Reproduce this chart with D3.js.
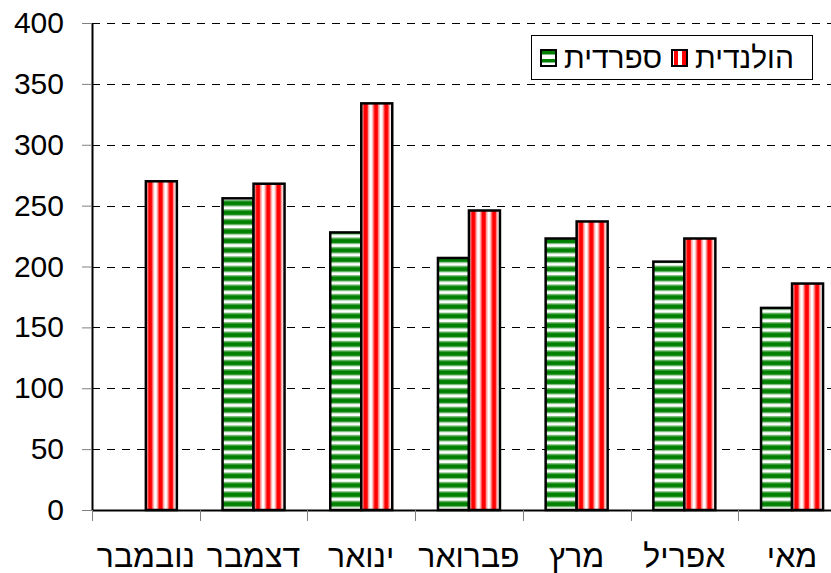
<!DOCTYPE html>
<html>
<head>
<meta charset="utf-8">
<script src="https://cdn.jsdelivr.net/npm/d3@7"></script>
<style>
  body { margin: 0; background: #fff; }
  svg { display: block; font-family: 'Liberation Sans', Arial, sans-serif; }
</style>
</head>
<body>
<svg id="chart"></svg>
<script>
var months = ['נובמבר', 'דצמבר', 'ינואר', 'פברואר', 'מרץ', 'אפריל', 'מאי'];
var spanish = [null, 256, 228, 207, 223, 204, 166];
var dutch = [270, 268, 334, 246, 237, 223, 186];
var seriesNames = ['ספרדית', 'הולנדית'];
var yTicks = [0, 50, 100, 150, 200, 250, 300, 350, 400];

var width = 831, height = 573;
var svg = d3.select('#chart').attr('width', width).attr('height', height);

var x = d3.scaleBand().domain(months).range([92, 92 + 7 * 107.7]).padding(0);
var xs = d3.scaleBand().domain([0, 1]).range([0, x.bandwidth()]).paddingInner(0).paddingOuter(0.737);
var y = d3.scaleLinear().domain([0, 400]).range([510, 23]);

var defs = svg.append('defs');
// horizontal green stripes
var pg = defs.append('pattern').attr('id', 'pgreen')
  .attr('patternUnits', 'userSpaceOnUse')
  .attr('width', 10).attr('height', 9.4).attr('y', y(0));
pg.append('rect').attr('width', 10).attr('height', 9.4).attr('fill', '#fff');
pg.append('rect').attr('y', 0).attr('width', 10).attr('height', 1.2).attr('fill', '#7fbf7f');
pg.append('rect').attr('y', 1.2).attr('width', 10).attr('height', 4.4).attr('fill', '#008000');
pg.append('rect').attr('y', 5.6).attr('width', 10).attr('height', 1.2).attr('fill', '#7fbf7f');
// vertical red stripes, three per bar
var pr = defs.append('pattern').attr('id', 'pred')
  .attr('patternUnits', 'objectBoundingBox')
  .attr('patternContentUnits', 'objectBoundingBox')
  .attr('width', 1 / 3).attr('height', 1);
pr.append('rect').attr('width', 1 / 3).attr('height', 1).attr('fill', '#fff');
pr.append('rect').attr('x', 0.02).attr('width', 0.05).attr('height', 1).attr('fill', '#ff9999');
pr.append('rect').attr('x', 0.07).attr('width', 0.14).attr('height', 1).attr('fill', '#ff0000');
pr.append('rect').attr('x', 0.21).attr('width', 0.05).attr('height', 1).attr('fill', '#ff9999');

// gridlines
svg.append('g').selectAll('line')
  .data(yTicks.filter(function(d) { return d > 0; }))
  .enter().append('line')
  .attr('x1', 92).attr('x2', width)
  .attr('y1', function(d) { return Math.round(y(d)) + 0.5; })
  .attr('y2', function(d) { return Math.round(y(d)) + 0.5; })
  .attr('stroke', '#000')
  .attr('stroke-dasharray', '8,7');

// bars
var pairs = [];
months.forEach(function(m, i) {
  if (spanish[i] != null) pairs.push({m: m, s: 0, v: spanish[i]});
  if (dutch[i] != null) pairs.push({m: m, s: 1, v: dutch[i]});
});
svg.append('g').selectAll('rect')
  .data(pairs)
  .enter().append('rect')
  .attr('x', function(d) { return x(d.m) + xs(d.s); })
  .attr('y', function(d) { return y(d.v); })
  .attr('width', xs.bandwidth())
  .attr('height', function(d) { return y(0) - y(d.v); })
  .attr('fill', function(d) { return d.s === 0 ? 'url(#pgreen)' : 'url(#pred)'; })
  .attr('stroke', '#000')
  .attr('stroke-width', 2.5);

// y axis
var yAxis = d3.axisLeft(y).tickValues(yTicks).tickSize(10).tickPadding(18).tickSizeOuter(0);
var yg = svg.append('g').attr('transform', 'translate(92,0)').call(yAxis);
yg.select('.domain').attr('stroke', '#000').attr('stroke-width', 2);
yg.selectAll('.tick line').attr('stroke', '#808080');
yg.selectAll('.tick text').attr('font-size', 30).attr('font-family', null).attr('fill', '#000');

// x axis
var xAxis = d3.axisBottom(x).tickValues([]).tickSizeOuter(0);
var xg = svg.append('g').attr('transform', 'translate(0,' + y(0) + ')').call(xAxis);
xg.select('.domain').attr('stroke', '#000').attr('stroke-width', 2);
xg.selectAll('.sep')
  .data(months)
  .enter().append('line')
  .attr('x1', function(d) { return Math.round(x(d)) + 0.5; })
  .attr('x2', function(d) { return Math.round(x(d)) + 0.5; })
  .attr('y1', 0).attr('y2', 11)
  .attr('stroke', '#808080');
xg.selectAll('.lbl')
  .data(months)
  .enter().append('text')
  .attr('x', function(d) { return x(d) + x.bandwidth() / 2; })
  .attr('y', 57)
  .attr('text-anchor', 'middle')
  .attr('font-size', 32)
  .attr('font-family', null)
  .attr('fill', '#000')
  .text(function(d) { return d; });

// legend
var lg = svg.append('g');
lg.append('rect').attr('x', 531.5).attr('y', 35.5).attr('width', 281).attr('height', 44)
  .attr('fill', '#fff').attr('stroke', '#000').attr('stroke-width', 1);
var legendItems = [{name: seriesNames[0], fill: 'url(#pgreenL)', x: 541}, {name: seriesNames[1], fill: 'url(#predL)', x: 672}];
var pgl = defs.append('pattern').attr('id', 'pgreenL')
  .attr('patternUnits', 'userSpaceOnUse').attr('width', 10).attr('height', 8).attr('y', 49);
pgl.append('rect').attr('width', 10).attr('height', 8).attr('fill', '#fff');
pgl.append('rect').attr('y', 2).attr('width', 10).attr('height', 3.5).attr('fill', '#008000');
var prl = defs.append('pattern').attr('id', 'predL')
  .attr('patternUnits', 'userSpaceOnUse').attr('width', 8).attr('height', 10).attr('x', 672);
prl.append('rect').attr('width', 8).attr('height', 10).attr('fill', '#fff');
prl.append('rect').attr('x', 2).attr('width', 4).attr('height', 10).attr('fill', '#ff0000');
lg.selectAll('.sw')
  .data(legendItems)
  .enter().append('rect')
  .attr('x', function(d) { return d.x; })
  .attr('y', 50).attr('width', 15).attr('height', 16)
  .attr('fill', function(d) { return d.fill; })
  .attr('stroke', '#000').attr('stroke-width', 2);
lg.selectAll('.lt')
  .data(legendItems)
  .enter().append('text')
  .attr('x', function(d) { return d.x + 23; })
  .attr('y', 68)
  .attr('font-size', 30)
  .text(function(d) { return d.name; });
</script>
</body>
</html>
